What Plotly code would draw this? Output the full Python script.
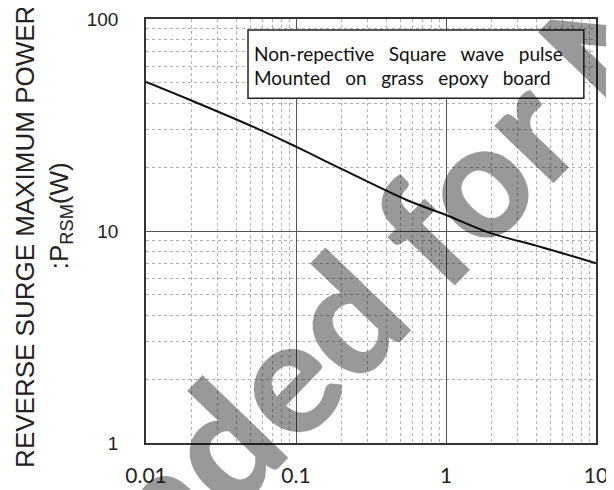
import plotly.graph_objects as go

# Data (pulse width vs. max surge power)
pulse_width = [0.01, 0.0197, 0.0547, 0.1, 0.196, 0.547, 1.0, 1.96, 4.23, 10.0]
surge_power = [50.5, 41.5, 30.5, 25.0, 19.8, 14.0, 11.9, 9.8, 8.43, 7.05]

x_tick_vals = [0.01, 0.1, 1, 10]
x_tick_text = ["0.01", "0.1", "1", "10"]
y_tick_vals = [1, 10, 100]
y_tick_text = ["1", "10", "100"]

SP = "\u00a0\u00a0 "
note_lines = ["Non-repective" + SP + "Square" + SP + "wave" + SP + "pulse",
              "Mounted" + SP + "on" + SP + "grass" + SP + "epoxy" + SP + "board"]
y_title_lines = ["REVERSE SURGE MAXIMUM POWER", ":P<sub>RSM</sub>(W)"]
watermark = "Not Recommended for New Designs"

fig = go.Figure()
fig.add_trace(go.Scatter(x=pulse_width, y=surge_power, mode="lines",
                         line=dict(color="#111111", width=2, shape="spline"),
                         showlegend=False, hoverinfo="skip"))

axis_common = dict(type="log", showline=True, linecolor="#333333", linewidth=1.5,
                   mirror=True, showgrid=True, gridcolor="#555555", gridwidth=1,
                   ticks="", zeroline=False, automargin=False,
                   minor=dict(dtick="D1", showgrid=True, gridcolor="#b0b0b0",
                              griddash="dot", gridwidth=1, ticks=""))

fig.update_xaxes(range=[-2, 1], tickvals=x_tick_vals, ticktext=x_tick_text,
                 tickfont=dict(family="Lato", size=21, color="#222222"),
                 ticklabelstandoff=13, **axis_common)
fig.update_yaxes(range=[0, 2], tickvals=y_tick_vals, ticktext=y_tick_text,
                 tickfont=dict(family="Liberation Sans", size=19, color="#222222"),
                 ticklabelstandoff=22, **axis_common)

# note box
fig.add_shape(type="rect", xref="paper", yref="paper", x0=0.2267, x1=0.973,
              y0=0.813, y1=0.974, line=dict(color="#222222", width=1.5),
              fillcolor="white", layer="above")
for i, (t, yy) in enumerate(zip(note_lines, [0.919, 0.862])):
    fig.add_annotation(text=t, xref="paper", yref="paper", x=0.2356, y=yy,
                       xanchor="left", yanchor="middle", showarrow=False,
                       font=dict(family="Lato", size=19, color="#111111"))

# y-axis title (two lines)
fig.add_annotation(text=y_title_lines[0], xref="paper", yref="paper",
                   x=-0.269, y=0.486, textangle=-90, showarrow=False,
                   xanchor="center", yanchor="middle",
                   font=dict(family="Liberation Sans", size=26, color="#222222"))
fig.add_annotation(text=y_title_lines[1], xref="paper", yref="paper",
                   x=-0.191, y=0.535, textangle=-90, showarrow=False,
                   xanchor="center", yanchor="middle",
                   font=dict(family="Liberation Sans", size=26, color="#222222"))

# watermark
fig.add_annotation(text=watermark, xref="paper", yref="paper", x=0.38, y=0.245,
                   textangle=-46, showarrow=False, xanchor="center", yanchor="middle",
                   font=dict(family="Lato", size=160, color="rgba(0,0,0,0.4)",
                             weight=900))

# page body adds an 8px offset, so the figure is sized to fit the 614x490 window
fig.update_layout(width=606, height=482, margin=dict(l=138, r=18, t=11, b=47),
                  plot_bgcolor="white", paper_bgcolor="white")
fig.write_html("out.html")
